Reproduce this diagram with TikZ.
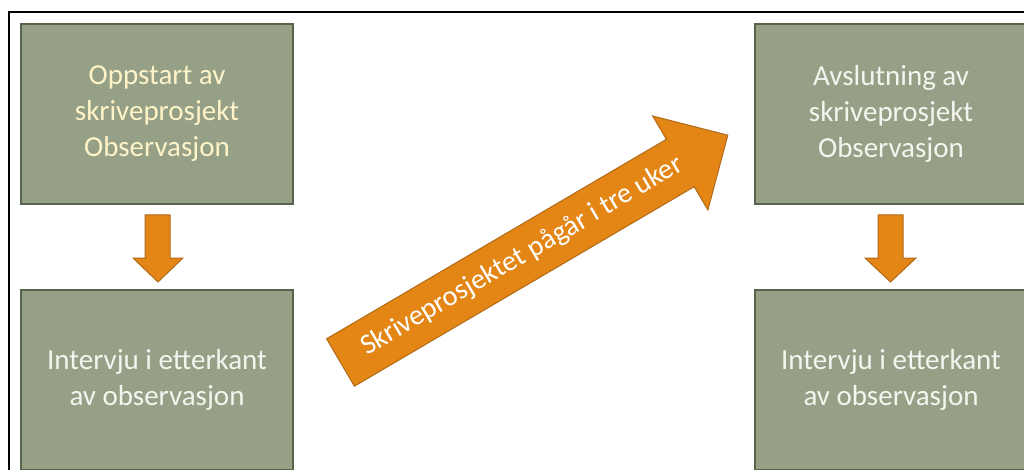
\documentclass[tikz,border=0pt]{standalone}
\usepackage{fontspec}
\setmainfont{Carlito}
\definecolor{boxfill}{RGB}{149,160,135}
\definecolor{boxline}{RGB}{88,99,76}
\definecolor{orangef}{RGB}{228,134,22}
\definecolor{oranged}{RGB}{176,106,22}
\definecolor{cream}{RGB}{255,244,200}
\definecolor{lighttxt}{RGB}{245,245,240}
\tikzset{
  stagebox/.style={draw=boxline, fill=boxfill, line width=2pt, minimum width=272pt, minimum height=180pt, inner sep=0pt, align=center, font=\fontsize{29}{36}\selectfont, text=lighttxt},
  blockarrow/.style={fill=orangef, draw=oranged, line width=1pt, line join=miter},
}
\begin{document}
\begin{tikzpicture}[x=1pt,y=-1pt]
\useasboundingbox (0,0) rectangle (1024,470);
% outer frame
\draw[line width=2pt] (9,12) rectangle (1040,490);
% boxes
\node[stagebox, text=cream] (a) at (157,114) {Oppstart av\\skriveprosjekt\\Observasjon};
\node[stagebox] (b) at (157,379.5) {Intervju i etterkant\\av observasjon};
\node[stagebox] (c) at (891,114) {Avslutning av\\skriveprosjekt\\Observasjon};
\node[stagebox] (d) at (891,379.5) {Intervju i etterkant\\av observasjon};
% down arrows
\draw[blockarrow] (145,215) -- (170,215) -- (170,258) -- (183,258) -- (158,282) -- (133,258) -- (145,258) -- cycle;
\draw[blockarrow] (878,215) -- (903,215) -- (903,258) -- (916,258) -- (890.5,282) -- (865,258) -- (878,258) -- cycle;
% diagonal arrow
\draw[blockarrow] (326.6,338.8) -- (666.4,139.3) -- (652.7,116.0) -- (727.8,135.2) -- (707.9,210.0) -- (694.2,186.7) -- (354.4,386.2) -- cycle;
\node[rotate=30.4, font=\fontsize{28.5}{34}\selectfont, text=white] (lbl) at (522,256) {Skriveprosjektet pågår i tre uker};
\end{tikzpicture}
\end{document}
